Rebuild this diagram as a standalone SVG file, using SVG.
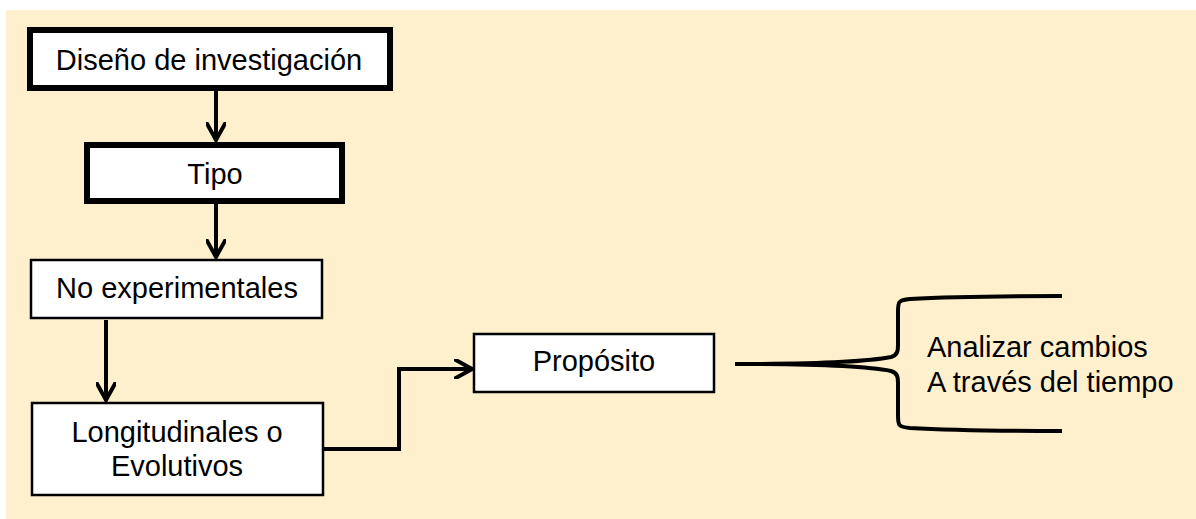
<svg xmlns="http://www.w3.org/2000/svg" width="1196" height="519" viewBox="0 0 1196 519">
<style>
  .bg { fill: #FFF0CD; }
  .box { fill: #FFFFFF; stroke: #000000; }
  .thick { stroke-width: 6; }
  .thin { stroke-width: 2.5; }
  .lbl { font-family: "Liberation Sans", Arial, sans-serif; font-size: 29px; fill: #000000; }
  .mid { text-anchor: middle; }
  .conn { fill: none; stroke: #000000; stroke-width: 4; }
</style>
<defs>
  <marker id="chev" viewBox="0 0 20 20" refX="18" refY="10" markerWidth="20" markerHeight="20" markerUnits="userSpaceOnUse" orient="auto">
    <path d="M0,0 L18,10 L0,20" fill="none" stroke="#000000" stroke-width="4"/>
  </marker>
</defs>
<rect class="bg" x="6" y="10" width="1190" height="509"/>

<g id="connectors">
  <path class="conn" d="M216,91 V140" marker-end="url(#chev)"/>
  <path class="conn" d="M216,204 V257" marker-end="url(#chev)"/>
  <path class="conn" d="M106,320 V400" marker-end="url(#chev)"/>
  <path class="conn" d="M324,449 H399 V369 H472" marker-end="url(#chev)"/>
  <path class="conn" d="M735,364 C800,364 860,363 891,357 C898,355 898,350 898,345 V312 C898,302 898,300 910,299 C960,296 1000,296 1062,296"/>
  <path class="conn" d="M735,364 C800,364 860,365 891,371 C898,373 898,378 898,383 V415 C898,425 898,427 910,428 C960,431 1000,431 1062,431"/>
</g>

<g id="node-diseno">
  <rect class="box thick" x="30" y="30" width="360" height="58"/>
  <text class="lbl mid" x="209" y="70">Diseño de investigación</text>
</g>
<g id="node-tipo">
  <rect class="box thick" x="87" y="145" width="255" height="56"/>
  <text class="lbl mid" x="215" y="184">Tipo</text>
</g>
<g id="node-noexp">
  <rect class="box thin" x="31" y="260" width="291" height="58"/>
  <text class="lbl mid" x="177" y="298">No experimentales</text>
</g>
<g id="node-longitudinales">
  <rect class="box thin" x="32" y="403" width="291" height="92"/>
  <text class="lbl mid" x="177" y="442">Longitudinales o</text>
  <text class="lbl mid" x="177" y="476">Evolutivos</text>
</g>
<g id="node-proposito">
  <rect class="box thin" x="474" y="334" width="240" height="58"/>
  <text class="lbl mid" x="594" y="371">Propósito</text>
</g>
<g id="node-analizar">
  <text class="lbl" x="927" y="357">Analizar cambios</text>
  <text class="lbl" x="927" y="392">A través del tiempo</text>
</g>
</svg>
